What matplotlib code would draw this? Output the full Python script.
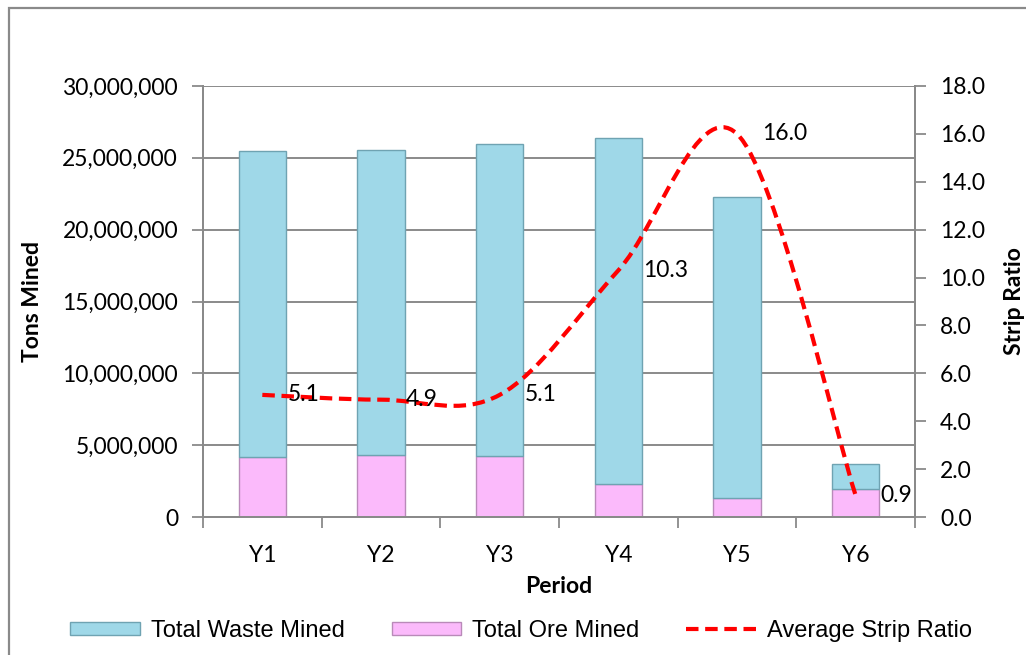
import matplotlib
matplotlib.use('Agg')
import matplotlib.pyplot as plt
import numpy as np
from matplotlib.path import Path
from matplotlib.patches import PathPatch, Rectangle, Patch
from matplotlib.lines import Line2D
from matplotlib.ticker import FuncFormatter

periods = ['Y1', 'Y2', 'Y3', 'Y4', 'Y5', 'Y6']
waste_mined = [21.30e6, 21.25e6, 21.70e6, 24.10e6, 20.90e6, 1.75e6]
ore_mined = [4.20e6, 4.30e6, 4.25e6, 2.30e6, 1.35e6, 1.97e6]
strip_ratio = [5.1, 4.9, 5.1, 10.3, 16.0, 0.9]
strip_labels = ['5.1', '4.9', '5.1', '10.3', '16.0', '0.9']

WASTE_C = '#9fd8e8'
WASTE_E = '#6fa3b2'
ORE_C = '#fbbafb'
ORE_E = '#b98ab9'
GRID_C = '#8a8a8a'
FONT = 'Lato'
FS = 16.5

fig = plt.figure(figsize=(10.26, 6.55), dpi=100)
ax = fig.add_axes([203/1026, 1-517/655, (915-203)/1026, (517-86)/655])
ax2 = ax.twinx()

x = np.arange(len(periods))
w = 0.40
ax.bar(x, ore_mined, w, color=ORE_C, edgecolor=ORE_E, linewidth=1.0, zorder=2)
ax.bar(x, waste_mined, w, bottom=ore_mined, color=WASTE_C, edgecolor=WASTE_E,
       linewidth=1.0, zorder=2)

ax.set_xlim(-0.5, len(periods) - 0.5)
ax.set_ylim(0, 30e6)
ax.set_yticks(np.arange(0, 30e6 + 1, 5e6))
ax.yaxis.set_major_formatter(FuncFormatter(lambda v, p: f'{v:,.0f}'))
ax.set_xticks(x)
ax.set_xticklabels(periods)
ax.set_xticks(np.arange(-0.5, len(periods)), minor=True)
ax.tick_params(axis='x', which='major', length=0, pad=20)
ax.tick_params(axis='x', which='minor', length=8, width=1.3, color=GRID_C, direction='out')
ax.tick_params(axis='y', length=8, width=1.3, color=GRID_C, direction='out', pad=10)
ax.grid(axis='y', color=GRID_C, linewidth=1.4, zorder=0)
ax.set_axisbelow(True)

for a in (ax, ax2):
    a.spines['top'].set_visible(False)
    for s in ('left', 'right', 'bottom'):
        a.spines[s].set_color(GRID_C)
        a.spines[s].set_linewidth(1.4)

ax2.set_ylim(0, 18)
ax2.set_yticks(np.arange(0, 18.1, 2))
ax2.yaxis.set_major_formatter(FuncFormatter(lambda v, p: f'{v:.1f}'))
ax2.tick_params(axis='y', length=8, width=1.3, color=GRID_C, direction='out', pad=10)

# Smoothed line (Excel-style Bezier smoothing through the data points)
pts = np.column_stack([x, strip_ratio]).astype(float)
n = len(pts)
verts = [pts[0]]
codes = [Path.MOVETO]
for i in range(n - 1):
    p_prev = pts[max(i - 1, 0)]
    p0 = pts[i]
    p1 = pts[i + 1]
    p_next = pts[min(i + 2, n - 1)]
    c1 = p0 + (p1 - p_prev) / 6.0
    c2 = p1 - (p_next - p0) / 6.0
    verts += [c1, c2, p1]
    codes += [Path.CURVE4] * 3
path = Path(verts, codes)
ax2.add_patch(PathPatch(path, facecolor='none', edgecolor='#ff0000', linewidth=3,
                        linestyle=(0, (3, 1.6)), zorder=5))

for xi, v, lab in zip(x, strip_ratio, strip_labels):
    ax2.annotate(lab, (xi, v), xytext=(18, 0), textcoords='offset points',
                 ha='left', va='center', fontsize=FS, family=FONT, color='black', zorder=6)

for lab in ax.get_xticklabels() + ax.get_yticklabels() + ax2.get_yticklabels():
    lab.set_fontfamily(FONT)
    lab.set_fontsize(FS)

ax.set_ylabel('Tons Mined', fontsize=FS, fontweight='bold', family=FONT)
ax.yaxis.set_label_coords((43 - 203) / 712, 0.5)
ax2.set_ylabel('Strip Ratio', fontsize=FS, fontweight='bold', family=FONT, rotation=90)
ax2.yaxis.set_label_coords((1004 - 203) / 712, 0.5)
ax.set_xlabel('Period', fontsize=FS, fontweight='bold', family=FONT)
ax.xaxis.set_label_coords(0.5, (517 - 576) / 431)

handles = [Patch(facecolor=WASTE_C, edgecolor=WASTE_E, linewidth=1.0),
           Patch(facecolor=ORE_C, edgecolor=ORE_E, linewidth=1.0),
           Line2D([], [], color='#ff0000', linewidth=3, linestyle=(0, (3, 1.6)))]
labels = ['Total Waste Mined', 'Total Ore Mined', 'Average Strip Ratio']
fig.legend(handles, labels, loc='center', bbox_to_anchor=(521/1026, 1-631/655), ncol=3,
           frameon=False, prop={'family': 'Liberation Sans', 'size': 17},
           handlelength=2.95, handleheight=0.5, handletextpad=0.45, columnspacing=2.0)

# outer chart border (left and top visible)
fig.add_artist(Rectangle((8.5/1026, -0.05), 1.2, 1.05 - 7.5/655,
                         transform=fig.transFigure, fill=False,
                         edgecolor='#8a8a8a', linewidth=1.6))

fig.savefig('out.png', dpi=100)
